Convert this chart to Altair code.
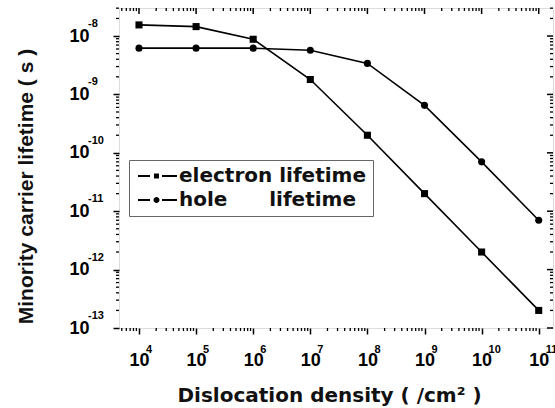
import altair as alt
import pandas as pd

# ---- data ----
density = [1e4, 1e5, 1e6, 1e7, 1e8, 1e9, 1e10, 1e11]
electron = [1.55e-8, 1.45e-8, 8.8e-9, 1.8e-9, 2.0e-10, 2.0e-11, 2.0e-12, 2.0e-13]
hole = [6.2e-9, 6.2e-9, 6.2e-9, 5.7e-9, 3.4e-9, 6.5e-10, 7.0e-11, 7.0e-12]
series = ["electron lifetime", "hole\u00a0\u00a0\u00a0\u00a0\u00a0\u00a0lifetime"]

x_major = [1e4, 1e5, 1e6, 1e7, 1e8, 1e9, 1e10, 1e11]
x_exp = ["4", "5", "6", "7", "8", "9", "10", "11"]
y_major = [1e-13, 1e-12, 1e-11, 1e-10, 1e-9, 1e-8]
y_exp = ["-13", "-12", "-11", "-10", "-9", "-8"]

X_DOMAIN = [10 ** 3.65, 10 ** 11.25]
Y_DOMAIN = [1e-13, 10 ** -7.52]

W, H = 434, 320
FONT = "Liberation Sans"
WIDE = "DejaVu Sans"

x_minor = [m * 10 ** k for k in range(3, 12) for m in range(2, 10)
           if X_DOMAIN[0] <= m * 10 ** k <= X_DOMAIN[1]]
y_minor = [m * 10.0 ** k for k in range(-13, -7) for m in range(2, 10)
           if Y_DOMAIN[0] <= m * 10.0 ** k <= Y_DOMAIN[1]]

df = pd.DataFrame({
    "density": density * 2,
    "lifetime": electron + hole,
    "series": [series[0]] * len(density) + [series[1]] * len(density),
})

xs = alt.Scale(type="log", domain=X_DOMAIN, nice=False)
ys = alt.Scale(type="log", domain=Y_DOMAIN, nice=False)

x_enc = alt.X("density:Q", scale=xs, axis=alt.Axis(
    values=x_major, labelExpr="'10'", title="Dislocation density ( /cm\u00b2 )",
    tickSize=6, tickWidth=1.5, tickColor="black", labelFontSize=18,
    labelFont=FONT, labelFontWeight="bold", labelColor="black", labelPadding=17,
    labelFlush=False, labelOverlap=False,
    titleFont=WIDE, titleFontSize=20, titleFontWeight="bold", titleColor="#111",
    titleX=210, titleY=67, titleBaseline="middle", titleAlign="center",
    domain=False, grid=False))
y_enc = alt.Y("lifetime:Q", scale=ys, axis=alt.Axis(
    values=y_major, labelExpr="'10'", title="Minority carrier lifetime ( s )",
    tickSize=6, tickWidth=1.5, tickColor="black", labelFontSize=18,
    labelFont=FONT, labelFontWeight="bold", labelColor="black", labelPadding=24,
    labelAlign="right", labelBaseline="middle", labelFlush=False, labelOverlap=False,
    titleFont=FONT, titleFontSize=21, titleFontWeight="bold", titleColor="#111",
    titleX=-93, titleY=178, titleBaseline="middle", titleAlign="center", titleAngle=-90,
    domain=False, grid=False))

base = alt.Chart(df)
lines = base.mark_line(color="black", strokeWidth=1.6).encode(
    x=x_enc, y=y_enc, detail="series:N")
points = base.mark_point(filled=True, color="black", size=50, opacity=1).encode(
    x="density:Q", y="lifetime:Q",
    shape=alt.Shape("series:N", scale=alt.Scale(domain=series, range=["square", "circle"]),
                    legend=None))

# legend symbols: dash - marker - dash, drawn as filled shapes
# (unit = half of sqrt(symbolSize) = 10 px; the drawing runs past the slot to the right)
dash = "M-0.7,-0.1H0.5V0.1H-0.7ZM1.7,-0.1H3.2V0.1H1.7Z"
sq_path = dash + "M0.9,-0.26H1.4V0.26H0.9Z"
ci_path = dash + "M0.85,0A0.3,0.3,0,1,1,1.45,0A0.3,0.3,0,1,1,0.85,0Z"
legend_layer = base.transform_filter("false").mark_point(
    filled=True, color="black", opacity=1).encode(
    x="density:Q", y="lifetime:Q",
    shape=alt.Shape("series:N", scale=alt.Scale(domain=series, range=[sq_path, ci_path]),
                    legend=alt.Legend(
                        title=None, orient="none", legendX=10, legendY=152,
                        strokeColor="#666", padding=6, labelFont=WIDE, labelFontSize=20,
                        labelFontWeight="bold", labelColor="#111", symbolSize=400,
                        symbolFillColor="black", symbolStrokeWidth=0,
                        rowPadding=4, labelOffset=24, labelLimit=400)))

# tick decorations
xmaj = pd.DataFrame({"v": x_major, "e": x_exp})
xmin = pd.DataFrame({"v": x_minor})
ymaj = pd.DataFrame({"v": y_major, "e": y_exp})
ymin = pd.DataFrame({"v": y_minor})

def xrule(d, y0, y1, w=1.3):
    return alt.Chart(d).mark_rule(color="black", strokeWidth=w).encode(
        x=alt.X("v:Q", scale=xs), y=alt.value(y0), y2=alt.value(y1))

def yrule(d, x0, x1, w=1.3):
    return alt.Chart(d).mark_rule(color="black", strokeWidth=w).encode(
        y=alt.Y("v:Q", scale=ys), x=alt.value(x0), x2=alt.value(x1))

ticks = [
    xrule(xmin, H, H + 3), xrule(xmaj, 0, 6, 1.5), xrule(xmin, 0, 3),
    yrule(ymin, 0, -3), yrule(ymaj, W, W - 6, 1.5), yrule(ymin, W, W - 3),
]

x_sup = alt.Chart(xmaj).mark_text(
    font=FONT, fontSize=11, fontWeight="bold", color="black", align="left",
    baseline="middle", dx=7).encode(
    x=alt.X("v:Q", scale=xs), y=alt.value(H + 22), text="e:N")
y_sup = alt.Chart(ymaj).mark_text(
    font=FONT, fontSize=11, fontWeight="bold", color="black", align="left",
    baseline="middle", dy=-12).encode(
    y=alt.Y("v:Q", scale=ys), x=alt.value(-31), text="e:N")

chart = alt.layer(lines, points, legend_layer, *ticks, x_sup, y_sup).resolve_scale(
    shape="independent"
).properties(
    width=W, height=H,
    autosize=alt.AutoSizeParams(type="none"),
    padding={"left": 119, "top": 8, "right": 2, "bottom": 80},
).configure_view(stroke="black", strokeWidth=2).configure(background="white")

chart.save("out.html", embed_options={"renderer": "svg", "actions": False})
